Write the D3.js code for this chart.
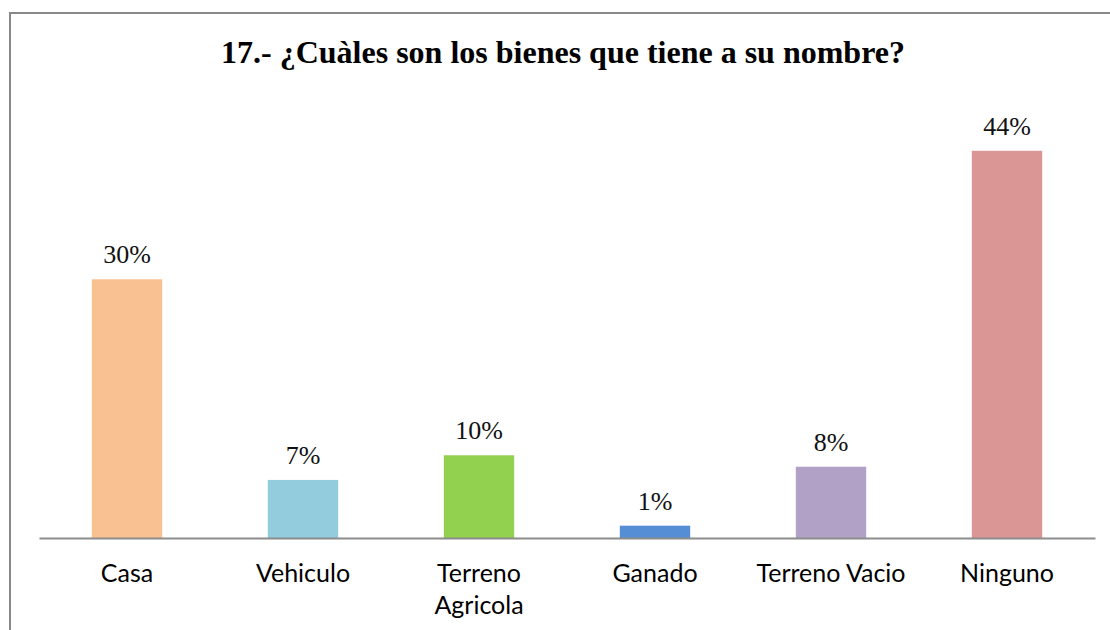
<!DOCTYPE html>
<html>
<head>
<meta charset="utf-8">
<script src="https://cdnjs.cloudflare.com/ajax/libs/d3/7.8.5/d3.min.js"></script>
</head>
<body style="margin:0">
<script>
var titleText = "17.- ¿Cuàles son los bienes que tiene a su nombre?";
var categories = ["Casa", "Vehiculo", "Terreno Agricola", "Ganado", "Terreno Vacio", "Ninguno"];
var values = [29.4, 6.6, 9.4, 1.4, 8.1, 44];
var valueLabels = ["30%", "7%", "10%", "1%", "8%", "44%"];
var colors = ["#f9c191", "#93cddd", "#92d050", "#558ed5", "#b2a1c7", "#d99694"];
// category labels wrapped the way the original shows them
var tickLines = [["Casa"], ["Vehiculo"], ["Terreno", "Agricola"], ["Ganado"], ["Terreno Vacio"], ["Ninguno"]];

var width = 1110, height = 630;
var plot = {left: 39, right: 1095, top: 98, bottom: 538};
var serifFont = "'Liberation Serif'";
var sansFont = "'Lato'";

var svg = d3.select("body").append("svg")
  .attr("width", width)
  .attr("height", height)
  .style("display", "block");

// chart frame (runs off the right and bottom of the picture)
svg.append("rect")
  .attr("x", 10).attr("y", 13)
  .attr("width", 1120).attr("height", 640)
  .attr("fill", "none")
  .attr("stroke", "#898989")
  .attr("stroke-width", 2);

svg.append("text")
  .attr("x", 563).attr("y", 63)
  .attr("text-anchor", "middle")
  .style("font-family", serifFont)
  .style("font-weight", "bold")
  .style("font-size", "32px")
  .text(titleText);

var x = d3.scaleBand()
  .domain(categories)
  .range([plot.left, plot.right])
  .paddingInner(0.6)
  .paddingOuter(0.3);

var y = d3.scaleLinear()
  .domain([0, 50])
  .range([plot.bottom, plot.top]);

var data = categories.map(function(c, i) {
  return {cat: c, value: values[i], label: valueLabels[i], color: colors[i], lines: tickLines[i]};
});

svg.append("g").attr("class", "bars")
  .selectAll("rect")
  .data(data)
  .enter()
  .append("rect")
  .attr("x", function(d) { return x(d.cat); })
  .attr("y", function(d) { return y(d.value); })
  .attr("width", x.bandwidth())
  .attr("height", function(d) { return y(0) - y(d.value); })
  .attr("fill", function(d) { return d.color; });

svg.append("g").attr("class", "labels")
  .selectAll("text")
  .data(data)
  .enter()
  .append("text")
  .attr("x", function(d) { return x(d.cat) + x.bandwidth() / 2; })
  .attr("y", function(d) { return y(d.value) - 16; })
  .attr("text-anchor", "middle")
  .style("font-family", serifFont)
  .style("font-size", "26px")
  .style("fill", "#111")
  .text(function(d) { return d.label; });

var axis = d3.axisBottom(x).tickSize(0).tickSizeOuter(0).tickFormat("");
var ax = svg.append("g")
  .attr("class", "x axis")
  .attr("transform", "translate(0," + plot.bottom + ")")
  .call(axis);
ax.select(".domain")
  .attr("stroke", "#8c8c8c")
  .attr("stroke-width", 2);

ax.selectAll(".tick").each(function(c, i) {
  var t = d3.select(this).append("text")
    .attr("y", 44)
    .attr("text-anchor", "middle")
    .attr("fill", "#000")
    .style("font-family", sansFont)
    .style("font-size", "25px");
  data[i].lines.forEach(function(line, k) {
    t.append("tspan")
      .attr("x", 0)
      .attr("dy", k === 0 ? 0 : 32)
      .text(line);
  });
});
</script>
</body>
</html>
